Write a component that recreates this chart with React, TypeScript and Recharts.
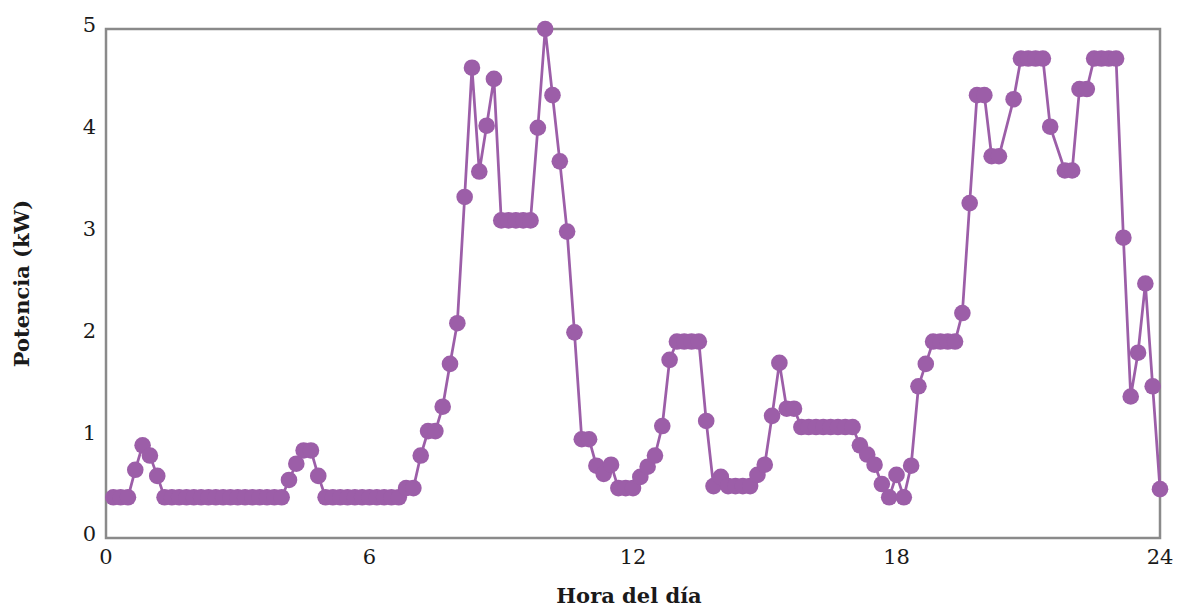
import React from "react";
import {
  LineChart,
  Line,
  XAxis,
  YAxis,
  ReferenceArea,
  Label,
} from "recharts";

// power readings every 10 minutes (00:10 .. 24:00), split into 6-hour blocks
const nightKw = [
  0.4, 0.4, 0.4, 0.67, 0.91, 0.81, 0.61, 0.4, 0.4, 0.4, 0.4, 0.4,
  0.4, 0.4, 0.4, 0.4, 0.4, 0.4, 0.4, 0.4, 0.4, 0.4, 0.4, 0.4,
  0.57, 0.73, 0.86, 0.86, 0.61, 0.4, 0.4, 0.4, 0.4, 0.4, 0.4, 0.4,
];
const morningKw = [
  0.4, 0.4, 0.4, 0.4, 0.49, 0.49, 0.81, 1.05, 1.05, 1.29, 1.71, 2.11,
  3.35, 4.62, 3.6, 4.05, 4.51, 3.12, 3.12, 3.12, 3.12, 3.12, 4.03, 5.0,
  4.35, 3.7, 3.01, 2.02, 0.97, 0.97, 0.71, 0.63, 0.72, 0.49, 0.49, 0.49,
];
const afternoonKw = [
  0.6, 0.7, 0.81, 1.1, 1.75, 1.93, 1.93, 1.93, 1.93, 1.15, 0.51, 0.6,
  0.51, 0.51, 0.51, 0.51, 0.62, 0.72, 1.2, 1.72, 1.27, 1.27, 1.09, 1.09,
  1.09, 1.09, 1.09, 1.09, 1.09, 1.09, 0.91, 0.82, 0.72, 0.53, 0.4, 0.62,
];
const eveningKw = [
  0.4, 0.71, 1.49, 1.71, 1.93, 1.93, 1.93, 1.93, 2.21, 3.29, 4.35, 4.35,
  3.75, 3.75, null, 4.31, 4.71, 4.71, 4.71, 4.71, 4.04, null, 3.61, 3.61,
  4.41, 4.41, 4.71, 4.71, 4.71, 4.71, 2.95, 1.39, 1.82, 2.5, 1.49, 0.48,
];

const xTicks = [0, 6, 12, 18, 24];
const yTicks = [0, 1, 2, 3, 4, 5];

const allKw = [...nightKw, ...morningKw, ...afternoonKw, ...eveningKw];
const data = allKw.map((kw, i) => ({ hour: (i + 1) / 6, kw }));

const purple = "#9c5ea8";
const frame = "#8a8a8a";
const tickStyle = { fill: "#1a1a1a", fontSize: 21, fontFamily: "DejaVu Serif" };
const titleStyle = {
  fill: "#1a1a1a",
  fontSize: 21,
  fontWeight: 700,
  fontFamily: "DejaVu Serif",
};

const App: React.FC = () => {
  return (
    <div style={{ position: "absolute", left: 0, top: 0, background: "#fff" }}>
      <LineChart
        width={1179}
        height={610}
        data={data}
        margin={{ top: 29, right: 19, left: 0, bottom: 0 }}
      >
        <XAxis
          dataKey="hour"
          type="number"
          domain={[0, 24]}
          ticks={xTicks}
          height={72}
          axisLine={false}
          tickLine={false}
          tickSize={0}
          tickMargin={11}
          tick={tickStyle}
        >
          <Label
            content={({ viewBox }: any) => (
              <text
                x={viewBox.x + viewBox.width / 2 - 4}
                y={viewBox.y + 57}
                textAnchor="middle"
                dominantBaseline="central"
                style={titleStyle}
              >
                Hora del día
              </text>
            )}
          />
        </XAxis>
        <YAxis
          type="number"
          domain={[0, 5]}
          ticks={yTicks}
          width={106}
          axisLine={false}
          tickLine={false}
          tickSize={0}
          tickMargin={10}
          tick={{ ...tickStyle, dy: -4 }}
        >
          <Label
            content={({ viewBox }: any) => {
              const cx = viewBox.x + 21;
              const cy = viewBox.y + viewBox.height / 2;
              return (
                <text
                  x={cx}
                  y={cy}
                  transform={`rotate(-90, ${cx}, ${cy})`}
                  textAnchor="middle"
                  dominantBaseline="central"
                  style={titleStyle}
                >
                  Potencia (kW)
                </text>
              );
            }}
          />
        </YAxis>
        <ReferenceArea
          x1={0}
          x2={24}
          y1={0}
          y2={5}
          fill="none"
          fillOpacity={0}
          stroke={frame}
          strokeWidth={2.5}
        />
        <Line
          type="linear"
          dataKey="kw"
          stroke={purple}
          strokeWidth={2.75}
          connectNulls
          dot={{ r: 8.3, fill: purple, stroke: purple, strokeWidth: 0 }}
          activeDot={false}
          isAnimationActive={false}
        />
      </LineChart>
    </div>
  );
};

export default App;
